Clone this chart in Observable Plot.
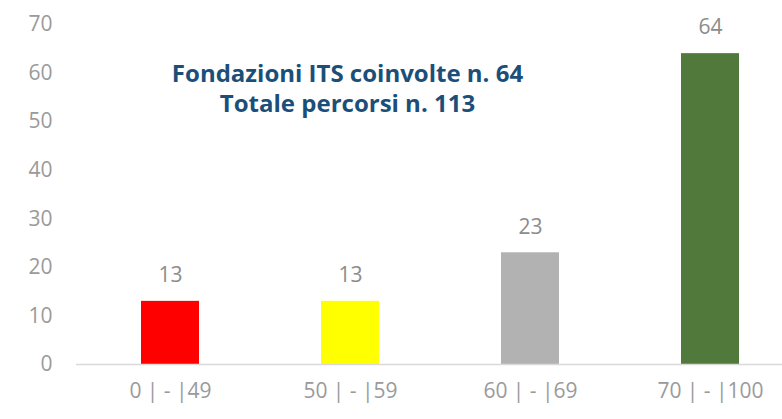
<!DOCTYPE html>
<html><head><meta charset="utf-8">
<script src="https://cdn.jsdelivr.net/npm/d3@7"></script>
<script src="https://cdn.jsdelivr.net/npm/@observablehq/plot@0.6"></script>
<style>body{margin:0;background:#fff;} svg{display:block}</style>
</head><body><div id="chart"></div>
<script>
const categories = ["0 | - |49", "50 | - |59", "60 | - |69", "70 | - |100"];
const values = [13, 13, 23, 64];
const colors = ["#ff0000", "#ffff00", "#b2b2b2", "#52793c"];
const yTicks = [0, 10, 20, 30, 40, 50, 60, 70];
const titleLines = ["Fondazioni ITS coinvolte n. 64", "Totale percorsi n. 113"];

const data = categories.map((c, i) => ({cat: c, value: values[i], color: colors[i]}));

const chart = Plot.plot({
  width: 782, height: 419,
  marginLeft: 76, marginRight: 0, marginTop: 24, marginBottom: 55,
  style: {fontFamily: "'Open Sans', sans-serif", fontSize: "21px", color: "#999999", background: "#fff"},
  x: {domain: categories, range: [76, 803], paddingInner: 0.68, paddingOuter: 0.35, label: null},
  y: {domain: [0, 70], ticks: yTicks, label: null},
  marks: [
    Plot.axisY({ticks: yTicks, tickSize: 0, tickPadding: 24, label: null, fontSize: 21, fill: "#9a9a9a"}),
    Plot.axisX({tickSize: 0, tickPadding: 19, label: null, fontSize: 21, fill: "#9a9a9a"}),
    Plot.barY(data, {x: "cat", y: "value", fill: d => d.color}),
    Plot.ruleY([0], {stroke: "#d9d9d9", strokeWidth: 1.5}),
    Plot.text(data, {x: "cat", y: "value", text: d => String(d.value), dy: -26, fontSize: 21, fill: "#8c8c8c"}),
    Plot.text([titleLines[0]], {frameAnchor: "top-left", dx: 271, dy: 40, text: d => d, fontSize: 24, fontWeight: "bold", fill: "#1b4f7a", textAnchor: "middle"}),
    Plot.text([titleLines[1]], {frameAnchor: "top-left", dx: 271, dy: 70, text: d => d, fontSize: 24, fontWeight: "bold", fill: "#1b4f7a", textAnchor: "middle"})
  ]
});
document.getElementById("chart").appendChild(chart);
</script>
</body></html>
